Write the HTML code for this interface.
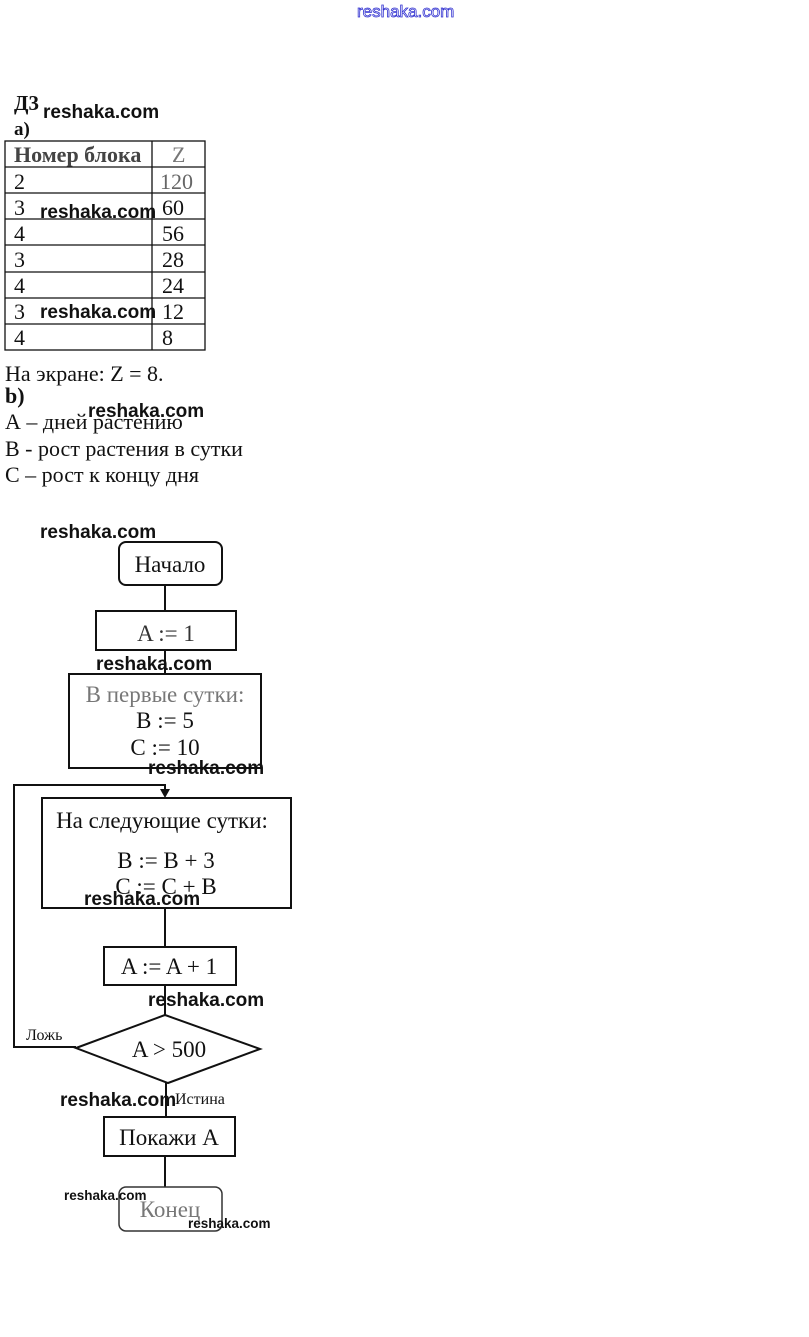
<!DOCTYPE html>
<html><head><meta charset="utf-8"><style>
html,body{margin:0;padding:0;background:#fff;}
svg{display:block;}
.s{font-family:"Liberation Serif","DejaVu Serif",serif;fill:#111;}
.w{font-family:"Liberation Sans","DejaVu Sans",sans-serif;font-weight:bold;fill:#111;}
</style></head><body>
<svg width="809" height="1337" viewBox="0 0 809 1337" xmlns="http://www.w3.org/2000/svg">
<rect width="809" height="1337" fill="#fff"/>
<text x="357" y="17" font-family="Liberation Sans,DejaVu Sans,sans-serif" font-size="17" fill="none" stroke="#3030d0" stroke-width="0.8">reshaka.com</text>

<text class="s" x="14" y="110" font-size="21" font-weight="bold">Д3</text>
<text class="s" x="14" y="135" font-size="19" font-weight="bold" fill="#555">а)</text>

<g stroke="#111" stroke-width="1.3" fill="none">
<rect x="5" y="141" width="200" height="209"/>
<line x1="152" y1="141" x2="152" y2="350"/>
<line x1="5" y1="167" x2="205" y2="167"/>
<line x1="5" y1="193" x2="205" y2="193"/>
<line x1="5" y1="219" x2="205" y2="219"/>
<line x1="5" y1="245" x2="205" y2="245"/>
<line x1="5" y1="272" x2="205" y2="272"/>
<line x1="5" y1="298" x2="205" y2="298"/>
<line x1="5" y1="324" x2="205" y2="324"/>
</g>
<g class="s" font-size="22">
<text x="14" y="162" font-weight="bold" fill="#444">Номер блока</text>
<text x="172" y="162" fill="#777">Z</text>
<text x="14" y="189">2</text><text x="160" y="189" fill="#666">120</text>
<text x="14" y="215">3</text><text x="162" y="215">60</text>
<text x="14" y="241">4</text><text x="162" y="241">56</text>
<text x="14" y="267">3</text><text x="162" y="267">28</text>
<text x="14" y="293">4</text><text x="162" y="293">24</text>
<text x="14" y="319">3</text><text x="162" y="319">12</text>
<text x="14" y="345">4</text><text x="162" y="345">8</text>
<text x="5" y="381">На экране: Z = 8.</text>
<text x="5" y="403" font-weight="bold">b)</text>
<text x="5" y="429">А – дней растению</text>
<text x="5" y="456">В - рост растения в сутки</text>
<text x="5" y="482">С – рост к концу дня</text>
</g>

<g stroke="#111" stroke-width="2" fill="none">
<rect x="119" y="542" width="103" height="43" rx="7"/>
<line x1="165" y1="585" x2="165" y2="611"/>
<rect x="96" y="611" width="140" height="39"/>
<line x1="165" y1="650" x2="165" y2="674"/>
<rect x="69" y="674" width="192" height="94"/>
<polyline points="165,790 165,785 14,785 14,1047 76,1047"/>
<rect x="42" y="798" width="249" height="110"/>
<line x1="165" y1="908" x2="165" y2="947"/>
<rect x="104" y="947" width="132" height="38"/>
<line x1="165" y1="985" x2="165" y2="1015"/>
<polygon points="76,1048 165,1015 260,1049 168,1083"/>
<line x1="166" y1="1083" x2="166" y2="1117"/>
<rect x="104" y="1117" width="131" height="39"/>
<line x1="165" y1="1156" x2="165" y2="1187"/>
<rect x="119" y="1187" width="103" height="44" rx="7" stroke="#333" stroke-width="1.5"/>
</g>
<polygon points="160,789 170,789 165,798" fill="#111"/>

<g class="s" text-anchor="middle" font-size="23">
<text x="170" y="572">Начало</text>
<text x="166" y="641" fill="#333">A := 1</text>
<text x="165" y="702" fill="#777">В первые сутки:</text>
<text x="165" y="728">B := 5</text>
<text x="165" y="755">C := 10</text>
<text x="162" y="828">На следующие сутки:</text>
<text x="166" y="868">B := B + 3</text>
<text x="166" y="894">C := C + B</text>
<text x="169" y="974">A := A + 1</text>
<text x="169" y="1057">A &gt; 500</text>
<text x="169" y="1145">Покажи А</text>
<text x="170" y="1217" fill="#777">Конец</text>
</g>
<text class="s" x="26" y="1040" font-size="16">Ложь</text>
<text class="s" x="175" y="1104" font-size="16">Истина</text>

<g class="w" font-size="19">
<text x="43" y="118">reshaka.com</text>
<text x="40" y="218">reshaka.com</text>
<text x="40" y="318">reshaka.com</text>
<text x="88" y="417">reshaka.com</text>
<text x="40" y="538">reshaka.com</text>
<text x="96" y="670">reshaka.com</text>
<text x="148" y="774">reshaka.com</text>
<text x="84" y="905">reshaka.com</text>
<text x="148" y="1006">reshaka.com</text>
<text x="60" y="1106">reshaka.com</text>
</g>
<g class="w" font-size="13.5">
<text x="64" y="1200">reshaka.com</text>
<text x="188" y="1228">reshaka.com</text>
</g>
</svg>
</body></html>
